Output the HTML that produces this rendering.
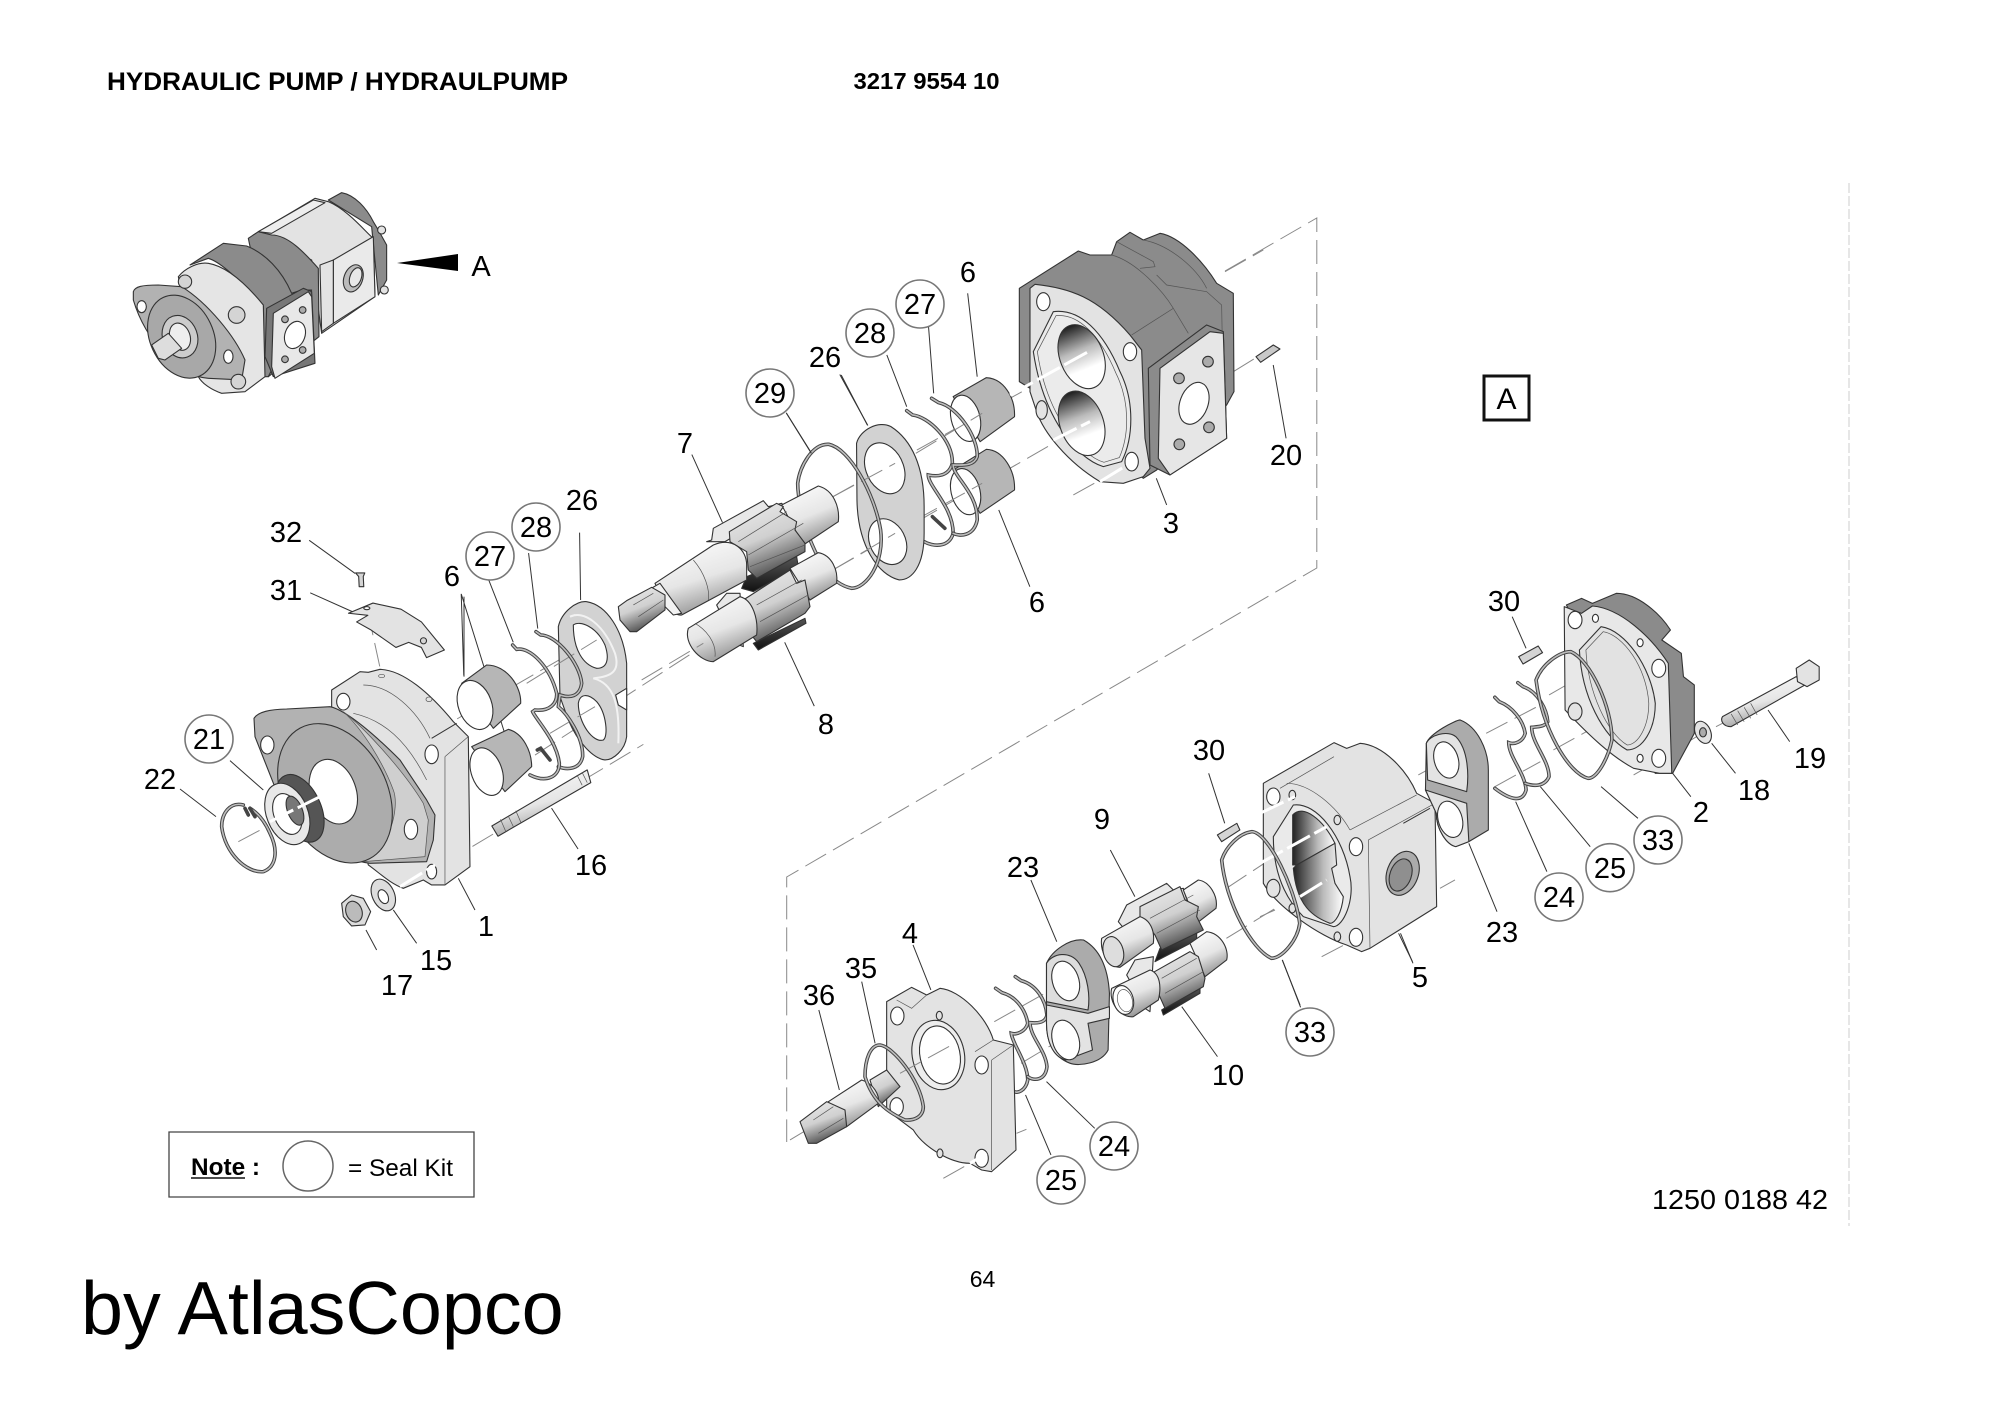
<!DOCTYPE html>
<html><head><meta charset="utf-8"><style>
html,body{margin:0;padding:0;background:#fff}
svg{display:block}
svg *{vector-effect:non-scaling-stroke}
text{font-family:"Liberation Sans",sans-serif;fill:#000}
.l text{font-size:29px;text-anchor:middle}
.c circle{fill:#fff;stroke:#777;stroke-width:1.6}
.p{stroke:#333;stroke-width:1.1;stroke-linejoin:round}
.t{stroke:#555;stroke-width:.7;fill:none}
.r{fill:none;stroke:#444;stroke-width:3.6;stroke-linecap:round}
.ri{fill:none;stroke:#bdbdbd;stroke-width:1.6;stroke-linecap:round}
.d{stroke:#888;stroke-width:1;stroke-dasharray:24 8;fill:none}
.w{stroke:#fff;stroke-width:3;stroke-dasharray:26 5;fill:none}
.ld{stroke:#333;stroke-width:1;fill:none}
.g1{fill:#e3e3e3}.g2{fill:#d4d4d4}.g3{fill:#ababab}.g4{fill:#8b8b8b}.wh{fill:#fff}.k{fill:#222}
</style></head><body>
<svg width="2000" height="1413" viewBox="0 0 2000 1413" xmlns="http://www.w3.org/2000/svg">
<defs>
<linearGradient id="bore" x1="0" y1="0" x2="0" y2="1"><stop offset="0" stop-color="#1c1c1c"/><stop offset=".4" stop-color="#bbb"/><stop offset=".7" stop-color="#fff"/></linearGradient>
<linearGradient id="boreh" x1="0" y1="0" x2="1" y2="0"><stop offset="0" stop-color="#222"/><stop offset=".6" stop-color="#bbb"/><stop offset="1" stop-color="#fff"/></linearGradient>
<linearGradient id="cyl" x1="0" y1="0" x2=".4" y2="1"><stop offset="0" stop-color="#fff"/><stop offset=".6" stop-color="#e6e6e6"/><stop offset="1" stop-color="#999"/></linearGradient>
<linearGradient id="gear" x1="0" y1="0" x2=".4" y2="1"><stop offset="0" stop-color="#eee"/><stop offset=".55" stop-color="#d0d0d0"/><stop offset="1" stop-color="#555"/></linearGradient>
<linearGradient id="dk" x1="0" y1="0" x2="0" y2="1"><stop offset="0" stop-color="#555"/><stop offset="1" stop-color="#111"/></linearGradient>
<path id="r22" d="M340,495C300,485 275,520 275,560C285,640 350,700 400,695C440,680 445,630 420,580C405,545 385,520 360,505"/>
<path id="ra" d="M188,225L200,238C240,230 300,290 320,370C322,400 300,425 255,420L248,425C255,445 320,510 328,580C328,620 290,640 240,615"/>
<path id="rb" d="M258,185L272,195C320,195 390,280 395,340C390,380 360,385 330,375L325,410C350,430 400,500 398,560C390,600 350,600 325,590"/>
<path id="r28" d="M378,632L392,645C430,650 490,720 488,790C480,830 450,830 430,825C430,860 490,920 490,1000C480,1045 440,1040 420,1025"/>
<path id="r27" d="M438,595L455,608C500,620 550,710 548,770C540,800 510,795 490,795C490,830 550,880 548,960C540,1010 505,1010 490,1000"/>
<path id="r29" d="M115,850C120,800 150,730 190,733C240,745 300,880 315,990C325,1090 280,1165 245,1165C190,1150 165,1080 145,1020C130,960 115,900 115,850Z"/>
<path id="r24" d="M483,415L497,428C530,440 550,480 555,520C550,545 530,555 518,550C520,580 555,640 555,690C550,725 530,730 525,725"/>
<path id="r25" d="M527,380L540,392C575,405 595,450 598,495C595,520 575,520 560,518C560,560 595,600 598,650C595,690 570,695 555,680"/>
<path id="r35" d="M225,290C225,240 240,195 270,195C310,200 390,300 400,380C400,410 375,422 345,420C300,400 250,370 225,290Z"/>
<path id="r33a" d="M50,870C60,830 90,790 120,785C160,790 220,960 230,1060C225,1110 190,1165 165,1165C120,1140 60,1000 50,870Z"/>
<path id="r33b" d="M775,330C790,280 830,245 855,245C900,270 950,410 950,510C940,570 915,625 895,625C850,610 790,480 775,330Z"/>
<path id="r24b" d="M680,382L690,395C720,410 745,450 750,490C745,515 725,525 712,518C712,560 750,610 752,660C745,695 720,695 680,655"/>
<path id="r25b" d="M733,338L745,350C780,365 800,420 802,455C795,470 780,470 765,472C765,520 805,570 805,620C795,650 770,650 750,640"/>
</defs>

<!-- dashed frames -->
<path d="M1225,271 L1316.8,218 L1316.8,568 L786.7,877 L786.7,1142" class="d"/>
<line x1="1849" y1="183" x2="1849" y2="1226" stroke="#ddd" stroke-width="1.5" stroke-dasharray="10 3"/>

<!-- Thumbnail -->
<g transform="translate(125,180) scale(.3333)">
 <path class="p g4" d="M610,60L650,38C690,45 725,85 745,125L760,150 785,195 785,300 760,345 740,140Z"/>
 <circle class="p g1" cx="770" cy="150" r="12"/><circle class="p g1" cx="778" cy="330" r="12"/>
 <path class="p g1" d="M385,165L570,55 610,65C670,90 725,160 745,175L750,350 590,460 560,240Z"/>
 <path class="p" fill="#eee" d="M400,155L565,60 600,68 440,160Z"/>
 <path class="p g4" d="M370,175L400,155 440,165C490,165 540,220 580,265L582,470 430,590 415,390Z"/>
 <path class="p g4" d="M195,255L295,190 365,198C420,220 470,270 500,340L530,330 560,330 430,590 410,590 415,380C380,340 300,250 250,235Z"/>
 <path class="p" fill="#eaeaea" d="M625,240L745,170 750,350 625,430Z"/>
 <path class="p g1" d="M585,255L625,240 625,430 590,455Z"/>
 <ellipse class="p" fill="#bbb" cx="685" cy="295" rx="28" ry="42" transform="rotate(20 685 295)"/>
 <ellipse class="p" fill="#e8e8e8" cx="692" cy="292" rx="17" ry="30" transform="rotate(20 692 292)"/>
 <path class="p" fill="#e5e5e5" d="M160,290C180,265 220,245 250,250C310,260 370,320 415,375L420,590 360,635 290,640C260,630 230,610 220,590Z"/>
 <path class="p" fill="#b2b2b2" d="M25,335C30,320 50,315 100,315L170,320C250,370 330,470 360,540L350,600 250,595C160,590 60,480 25,360Z"/>
 <ellipse class="p" fill="#a8a8a8" cx="170" cy="470" rx="95" ry="130" transform="rotate(-25 170 470)"/>
 <ellipse class="p" fill="#ccc" cx="165" cy="470" rx="52" ry="65" transform="rotate(-20 165 470)"/>
 <ellipse class="p" fill="#eee" cx="165" cy="470" rx="30" ry="42" transform="rotate(-20 165 470)"/>
 <path class="p" fill="#ddd" d="M80,495L130,460 170,505 120,540 100,535Z"/>
 <ellipse class="p wh" cx="50" cy="380" rx="14" ry="18"/><ellipse class="p wh" cx="310" cy="530" rx="14" ry="20"/>
 <circle class="p g2" cx="180" cy="305" r="20"/><circle class="p g2" cx="335" cy="405" r="25"/><circle class="p g2" cx="340" cy="605" r="22"/>
 <path class="p" fill="#777" d="M425,385L535,325 560,335 570,550 445,590 420,530Z"/>
 <path class="p" fill="#e8e8e8" d="M445,400L550,335 560,350 568,520 450,595 440,560Z"/>
 <ellipse class="p wh" cx="510" cy="465" rx="30" ry="42" transform="rotate(20 510 465)"/>
 <circle class="p g3" cx="480" cy="418" r="10"/><circle class="p g3" cx="533" cy="390" r="10"/><circle class="p g3" cx="533" cy="510" r="10"/><circle class="p g3" cx="480" cy="538" r="10"/>
</g>
<polygon fill="#000" points="397,263 458,254 458,271"/>

<!-- shim, screw, stud, upper leaders (crop 1) -->
<g transform="translate(100,150) scale(.5102)">
 <line class="d" x1="525" y1="905" x2="550" y2="1020"/>
 <line class="d" x1="800" y1="1220" x2="1170" y2="980"/>
 <line class="d" x1="700" y1="1115" x2="1020" y2="930"/>
 <line class="d" x1="730" y1="1365" x2="1065" y2="1165"/>
 <path class="p g1" d="M487,908L535,888 590,900 630,925 675,980 640,995 630,975 605,965 580,975 530,940 503,925 525,912Z"/>
 <ellipse class="p wh" cx="523" cy="898" rx="6" ry="3"/><circle class="p g2" cx="634" cy="962" r="6"/>
 <path class="p g2" d="M501,829L519,829 516,836 517,856 508,856 507,836Z"/>
 <path class="p" fill="url(#cyl)" d="M768,1325L955,1215 962,1240 780,1345Z"/>
 <path class="t" d="M785,1312L795,1335M800,1305L810,1326M815,1295L825,1318M935,1225L945,1245M945,1220L955,1240"/>
 <path class="ld" d="M410,765L500,830M412,868L495,905M708,870L713,1030M708,870L800,1165M762,843L810,965M840,790L858,938M940,750L942,882M1345,515L1395,595M1450,440L1505,540M1160,597L1220,730M1342,965L1400,1090M885,1290L937,1370"/>
</g>

<!-- Part 1 housing (crop 2) -->
<g transform="translate(130,640) scale(.3333)">
 <path class="p g1" d="M605,150L690,95 715,97 750,88C820,90 900,160 970,245L1015,290 1020,680 945,735 905,735 880,720 820,745C780,730 750,700 715,675L605,200Z"/>
 <path class="t" d="M945,350L945,735M945,350L1015,290M700,135C780,135 860,210 900,295M670,220C760,240 830,300 890,420"/>
 <line x1="905" y1="295" x2="980" y2="250" class="ld"/>
 <ellipse class="p wh" cx="640" cy="185" rx="20" ry="25"/><ellipse class="p wh" cx="905" cy="343" rx="20" ry="28"/><ellipse class="p wh" cx="905" cy="695" rx="15" ry="22"/>
 <ellipse class="t" cx="755" cy="108" rx="9" ry="5"/><ellipse class="t" cx="897" cy="178" rx="9" ry="7"/>
 <path class="p" fill="#b2b2b2" d="M372,235C385,215 420,208 470,207L600,200C650,210 740,290 810,360L890,480 915,525 910,600 890,665 720,670C640,660 520,600 450,480L375,290Z"/>
 <path d="M640,215C700,260 820,390 880,490L895,540 885,650 700,665C780,630 810,500 790,450C760,370 700,270 640,215Z" fill="#cfcfcf" stroke="#555" stroke-width=".7"/>
 <ellipse class="p" fill="#acacac" cx="615" cy="460" rx="155" ry="222" transform="rotate(-28 615 460)"/>
 <ellipse class="p wh" cx="610" cy="455" rx="68" ry="100" transform="rotate(-20 610 455)"/>
 <ellipse class="p wh" cx="843" cy="568" rx="20" ry="30"/><ellipse class="p wh" cx="412" cy="315" rx="20" ry="27"/>
 <ellipse class="p" fill="#555" cx="510" cy="505" rx="62" ry="108" transform="rotate(-25 510 505)"/>
 <ellipse class="p" fill="#e8e8e8" cx="472" cy="522" rx="62" ry="96" transform="rotate(-22 472 522)"/>
 <ellipse class="p wh" cx="472" cy="522" rx="40" ry="64" transform="rotate(-22 472 522)"/>
 <ellipse class="p" fill="#777" cx="495" cy="512" rx="22" ry="46" transform="rotate(-22 495 512)"/>
 <use href="#r22" class="r"/><use href="#r22" class="ri"/>
 <path class="r" d="M345,505L355,525M360,505L375,530"/>
 <line class="d" x1="325" y1="605" x2="410" y2="560"/>
 <path class="w" d="M420,545L650,430M810,740L915,675"/>
 <ellipse class="p" fill="#ddd" cx="760" cy="765" rx="33" ry="50" transform="rotate(-25 760 765)"/>
 <ellipse class="p wh" cx="760" cy="770" rx="14" ry="22" transform="rotate(-25 760 770)"/>
 <path class="p" fill="#ddd" d="M635,790L665,765 700,775 722,815 705,855 665,858 640,830Z"/>
 <ellipse class="p" fill="#bbb" cx="672" cy="815" rx="24" ry="32" transform="rotate(-20 672 815)"/>
 <path class="ld" d="M300,362L400,450M150,447L258,530M790,810L860,910M708,870L740,930M985,715L1035,810"/>
</g>

<!-- bushings, rings, plate 26 (crop 3) -->
<g transform="translate(450,570) scale(.3333)">
 <path class="p" fill="#b6b6b6" d="M35,340L110,285C170,285 215,350 212,400L130,475Z"/>
 <ellipse class="p wh" cx="75" cy="405" rx="50" ry="76" transform="rotate(-20 75 405)"/>
 <path class="p" fill="#b6b6b6" d="M65,530L175,478C220,490 245,545 245,590L165,665Z"/>
 <ellipse class="p wh" cx="110" cy="605" rx="46" ry="74" transform="rotate(-20 110 605)"/>
 <path class="p" fill="#d2d2d2" d="M325,170C335,125 380,92 410,95C470,105 520,180 530,280L530,500C525,540 490,570 465,570C430,565 385,520 355,450L330,380Z"/>
 <path d="M360,140C400,120 460,160 495,250C510,300 490,320 430,325C490,340 510,400 505,520M360,140L375,135" fill="none" stroke="#f2f2f2" stroke-width="2"/>
 <path class="p wh" d="M370,165C390,150 440,170 465,225C480,270 470,295 440,295C400,285 370,240 370,165Z"/>
 <path class="p wh" d="M385,400C390,370 415,370 440,395C470,430 475,500 460,510C430,520 385,460 385,400Z"/>
 <path class="p wh" d="M497,375L530,355 530,420 505,405Z" stroke="#555"/>
 <line class="d" x1="230" y1="340" x2="440" y2="210"/><line class="d" x1="300" y1="490" x2="435" y2="410"/>
 <use href="#rb" class="r"/><use href="#rb" class="ri"/>
 <use href="#ra" class="r"/><use href="#ra" class="ri"/>
 <path class="r" d="M262,540L272,535L300,570"/>
 <line x1="42" y1="80" x2="42" y2="320" class="ld"/>
</g>

<!-- ZOOM 2 group: rings, bushings, plate 26 upper -->
<g transform="translate(750,200) scale(.4146,.3333)">
 <path class="d" d="M200,890L830,455M200,1110L830,660"/>
 <path class="p" fill="#b6b6b6" d="M490,590L570,533C610,535 640,590 638,650L555,725Z"/>
 <ellipse class="p wh" cx="520" cy="655" rx="35" ry="70" transform="rotate(-10 520 655)"/>
 <path class="p" fill="#b6b6b6" d="M490,810L570,748C610,750 640,810 638,870L555,940Z"/>
 <ellipse class="p wh" cx="520" cy="875" rx="35" ry="70" transform="rotate(-10 520 875)"/>
 <path class="d" d="M400,760L560,640M400,960L560,850"/>
 <use href="#r28" class="r"/><use href="#r28" class="ri"/>
 <use href="#r27" class="r"/><use href="#r27" class="ri"/>
 <path class="r" d="M440,950L470,985"/>
 <path class="p" fill="#d2d2d2" d="M257,730C265,690 310,660 340,680C390,720 420,800 420,920L420,1000C420,1100 390,1140 360,1140C310,1125 260,1040 258,900Z"/>
 <ellipse class="p wh" cx="325" cy="805" rx="46" ry="78" transform="rotate(-15 325 805)"/>
 <ellipse class="p wh" cx="332" cy="1025" rx="44" ry="70" transform="rotate(-15 332 1025)"/>
 <path class="d" d="M200,890L350,790M200,1110L350,1000"/>
 <use href="#r29" class="r"/><use href="#r29" class="ri"/>
 <path class="ld" d="M525,280L548,530M430,370L443,580M330,465L378,620M220,525L283,675M88,640L148,760M980,835L1005,915M600,930L675,1160M1262,495L1293,715"/>
</g>

<!-- Shafts 7 / 8 (crop 4) -->
<g transform="translate(610,480) scale(.3333)">
 <path class="p" fill="#e8e8e8" d="M290,185L305,180 310,145 460,62 475,80 515,70 525,80 345,185Z"/>
 <path class="p" fill="url(#cyl)" d="M515,75L625,18C670,30 690,80 685,125L580,195Z"/>
 <path class="p" fill="url(#dk)" d="M410,290L560,230 565,260 430,335 395,325Z"/>
 <path class="p" fill="url(#gear)" d="M358,155L500,70 520,80 510,95 560,125 555,150 585,190 585,215 440,295 415,270 410,215 360,185Z"/>
 <path class="t" d="M385,185L530,95M415,225L580,130M420,260L585,195"/>
 <path class="p" fill="url(#cyl)" d="M135,310L310,195C370,170 410,210 410,255L410,300 215,405C190,410 160,360 135,310Z"/>
 <path class="t" d="M250,240C285,280 300,330 295,360"/>
 <path class="p" fill="#f2f2f2" d="M115,330L150,310 215,400 190,405Z"/>
 <path class="p" fill="url(#gear)" d="M25,380L50,362 125,322 165,345 165,390 80,455 60,455 30,420Z"/>
 <path class="t" d="M70,375L130,340M85,410L160,360"/>
 <path class="p" fill="url(#cyl)" d="M540,265L625,218C665,225 685,270 680,310L600,360Z"/>
 <path class="p" fill="#e8e8e8" d="M320,375L350,340 390,340 400,500 375,490Z"/>
 <path class="p" fill="url(#dk)" d="M430,490L585,415 588,430 445,510Z"/>
 <path class="p" fill="url(#gear)" d="M400,360L540,270 560,310 585,300 600,380 585,400 440,485 420,460Z"/>
 <path class="t" d="M440,375L575,300M450,425L595,345"/>
 <path class="p" fill="url(#cyl)" d="M235,445L390,350C430,360 445,420 440,465L310,545C270,545 220,490 235,445Z"/>
 <path class="t" d="M255,430C290,450 320,490 315,530"/>
 <line class="d" x1="95" y1="600" x2="280" y2="490"/>
</g>

<!-- Housing 3 (crop 5) -->
<g transform="translate(1010,225) scale(.3333)">
 <path class="d" d="M645,140L760,75M670,440L735,400M190,810L360,715"/>
 <path class="p g4" d="M28,190L205,78 240,90 305,90 320,50 360,22 400,45 450,25C510,35 580,110 620,175L670,205 672,500 650,540 440,735 400,760 60,490 28,470Z"/>
 <path class="t" d="M320,50L430,110 435,125 390,130M400,45C480,60 560,130 590,190M440,150L470,180 590,200 635,240 640,520M365,330L490,250 535,325M305,90C380,110 460,200 490,250"/>
 <path class="p g1" d="M60,190L75,178C180,190 260,215 360,330L395,375 405,640 420,730 400,755 340,775 270,770C170,710 100,620 80,560L60,500Z"/>
 <path class="p" fill="#ebebeb" d="M70,380L130,260C210,250 280,320 330,440C375,530 370,640 335,710L280,725C200,700 100,580 70,380Z"/>
 <path class="t" d="M82,380L138,272C205,265 270,330 318,445C360,530 358,630 328,698L282,712C210,690 110,570 82,380Z"/>
 <ellipse class="p" fill="url(#bore)" cx="215" cy="395" rx="65" ry="100" transform="rotate(-22 215 395)"/>
 <ellipse class="p" fill="url(#bore)" cx="215" cy="595" rx="65" ry="100" transform="rotate(-20 215 595)"/>
 <ellipse class="p wh" cx="100" cy="230" rx="20" ry="27"/><ellipse class="p wh" cx="360" cy="380" rx="20" ry="27"/><ellipse class="p wh" cx="365" cy="710" rx="20" ry="28"/><ellipse class="p g1" cx="95" cy="555" rx="17" ry="28"/>
 <path class="w" d="M0,510L235,380M130,645L240,590M270,770L360,715"/>
 <path class="p g4" d="M415,430L590,300 640,320 650,640 480,750 420,720Z"/>
 <path class="p" fill="#e6e6e6" d="M450,430L600,320 640,325 650,640 480,750 445,700Z"/>
 <ellipse class="p wh" cx="552" cy="535" rx="42" ry="65" transform="rotate(20 552 535)"/>
 <circle class="p g3" cx="507" cy="460" r="16"/><circle class="p g3" cx="594" cy="410" r="16"/><circle class="p g3" cx="597" cy="607" r="16"/><circle class="p g3" cx="508" cy="658" r="16"/>
 <path class="p" fill="#c8c8c8" d="M738,395L790,360 810,372 752,412Z"/>
</g>

<!-- Lower centre: rings, plate 23 (crop zoom 3) -->
<g transform="translate(780,850) scale(.4464,.3333)">
 <path class="d" d="M480,515L640,395M540,640L640,560M530,850L552,838M1000,115L1130,0M1000,265L1140,150"/>
 <use href="#r24" class="r"/><use href="#r24" class="ri"/>
 <use href="#r25" class="r"/><use href="#r25" class="ri"/>
 <path class="p g3" d="M597,340C610,300 650,265 680,270C720,300 735,360 738,430L735,600C720,640 670,650 650,640C610,620 597,570 597,520Z"/>
 <path class="p g1" d="M597,465L690,490 738,470 738,505 690,520 700,600 640,630C610,620 597,570 597,520Z"/>
 <path class="p" fill="#ddd" d="M597,340C610,310 650,300 670,340C690,380 695,440 690,480L597,455Z"/>
 <ellipse class="p wh" cx="640" cy="393" rx="30" ry="60" transform="rotate(-10 640 393)"/>
 <ellipse class="p wh" cx="640" cy="570" rx="30" ry="60" transform="rotate(-10 640 570)"/>
 <path class="ld" d="M562,90L620,275M298,285L338,420M183,395L213,580M87,480L133,720M740,0L795,140M900,470L980,620M1125,330L1165,465M597,695L705,835M550,735L607,915M1390,250L1418,340"/>
</g>

<!-- Plate 4, shaft 36 (crop 7) -->
<g transform="translate(790,980) scale(.3333)">
 <path class="d" d="M0,480L50,450M460,595L540,550"/>
 <path class="p g1" d="M290,65L365,22 410,45 450,25C510,30 590,110 610,180L670,195 678,510 605,575 575,570 540,550C480,550 400,500 370,450L290,390Z"/>
 <path class="t" d="M555,215L610,180M605,240L670,195M605,240L605,570M320,60L365,85 410,45"/>
 <ellipse class="p" fill="#ededed" cx="445" cy="225" rx="78" ry="105" transform="rotate(-12 445 225)"/>
 <ellipse class="p wh" cx="450" cy="225" rx="60" ry="88" transform="rotate(-12 450 225)"/>
 <ellipse class="p wh" cx="322" cy="108" rx="20" ry="27"/><ellipse class="p wh" cx="575" cy="255" rx="20" ry="27"/><ellipse class="p wh" cx="575" cy="535" rx="20" ry="27"/><ellipse class="p wh" cx="320" cy="380" rx="20" ry="27"/>
 <ellipse class="p g1" cx="448" cy="107" rx="9" ry="13"/><ellipse class="p g1" cx="450" cy="520" rx="9" ry="13"/>
 <line class="d" x1="330" y1="280" x2="485" y2="195"/>
 <path class="p" fill="url(#gear)" d="M240,300L290,270 330,320 265,380Z"/>
 <path class="p" fill="url(#cyl)" d="M115,365L215,300C250,310 270,345 265,370L170,440Z"/>
 <path class="p" fill="url(#gear)" d="M30,425L110,365 165,390 170,440 80,490 55,490Z"/>
 <path class="t" d="M70,420L130,380M85,460L160,415"/>
 <use href="#r35" class="r"/><use href="#r35" class="ri"/>
 <line class="w" x1="540" y1="550" x2="590" y2="520"/>
</g>

<!-- Gears 9/10 (crop 6) -->
<g transform="translate(1090,880) scale(.3333)">
 <path class="p" fill="#e8e8e8" d="M85,125L110,75 230,10 250,30 280,25 300,90 130,180Z"/>
 <path class="p" fill="url(#cyl)" d="M280,30L325,0C360,5 385,50 378,85L320,130Z"/>
 <path class="p" fill="url(#dk)" d="M210,205L320,155 320,180 195,245Z"/>
 <path class="p" fill="url(#gear)" d="M150,80L270,20 285,60 325,80 320,110 340,150 215,210 195,165 150,110Z"/>
 <path class="t" d="M180,115L310,45M200,160L330,90"/>
 <path class="p" fill="url(#cyl)" d="M35,175L150,110C180,120 195,150 190,190L90,262C50,260 30,210 35,175Z"/>
 <ellipse class="p" fill="#ddd" cx="70" cy="215" rx="30" ry="46" transform="rotate(-15 70 215)"/>
 <path class="p" fill="url(#cyl)" d="M300,190L350,155C395,160 418,210 410,240L345,290Z"/>
 <path class="p" fill="#e8e8e8" d="M110,285L135,240 190,230 180,395 165,385Z"/>
 <path class="p" fill="url(#dk)" d="M215,390L330,320 330,340 220,405Z"/>
 <path class="p" fill="url(#gear)" d="M185,280L300,215 325,230 345,295 340,320 225,385 205,340Z"/>
 <path class="t" d="M215,295L320,235M225,340L340,275"/>
 <path class="p" fill="url(#cyl)" d="M65,325L180,270C210,280 215,320 205,360L130,410C90,415 55,365 65,325Z"/>
 <ellipse class="p wh" cx="100" cy="360" rx="30" ry="44" transform="rotate(-15 100 360)"/>
 <ellipse class="t" cx="105" cy="362" rx="22" ry="34" transform="rotate(-15 105 362)"/>
</g>

<!-- Housing 5 (crop 8) -->
<g transform="translate(1260,740) scale(.3333)">
 <path class="d" d="M475,105L575,50M540,445L585,420M185,650L290,595M0,530L45,510"/>
 <path class="p g1" d="M10,130L222,8 260,25 300,10C370,15 440,90 470,160L525,190 530,500 330,625 305,635 260,615C180,590 50,500 10,430Z"/>
 <path class="t" d="M270,270L470,165M325,300L525,190M325,300L330,625M60,145L222,50M80,130C150,130 230,200 270,270"/>
 <line x1="430" y1="250" x2="510" y2="205" class="ld"/>
 <path class="p" fill="#eaeaea" d="M40,290L100,195C170,185 250,290 270,410C285,480 250,560 220,560L130,530C70,470 40,390 40,290Z"/>
 <path class="p" fill="url(#boreh)" d="M98,225C130,190 190,240 225,310L110,375 98,375Z"/>
 <path class="p" fill="url(#boreh)" d="M100,385L110,375 225,310 230,375 215,385 225,430 250,470C245,520 225,550 210,550C160,530 110,500 100,385Z"/>
 <ellipse class="p g3" cx="428" cy="400" rx="47" ry="68" transform="rotate(20 428 400)"/>
 <ellipse class="p" fill="#8f8f8f" cx="422" cy="405" rx="32" ry="50" transform="rotate(20 422 405)"/>
 <ellipse class="p wh" cx="40" cy="170" rx="20" ry="26"/><ellipse class="p wh" cx="288" cy="320" rx="20" ry="27"/><ellipse class="p g1" cx="40" cy="445" rx="20" ry="27"/><ellipse class="p wh" cx="288" cy="592" rx="20" ry="27"/>
 <ellipse class="p g1" cx="97" cy="165" rx="10" ry="14"/><ellipse class="p g1" cx="232" cy="240" rx="10" ry="14"/><ellipse class="p g1" cx="232" cy="590" rx="10" ry="14"/><ellipse class="p g1" cx="97" cy="505" rx="10" ry="14"/>
 <path class="w" d="M0,220L105,170M0,370L200,260M120,470L200,420"/>
</g>

<!-- ZOOM 4 group: right parts -->
<g transform="translate(1200,570) scale(.4336,.3333)">
 <path class="d" d="M660,490L785,405M680,650L785,575M805,375L945,270M815,540L940,450M1000,615L1060,570M1120,520L1145,500M1190,470L1205,460M850,170L915,140"/>
 <use href="#r33a" class="r"/><use href="#r33a" class="ri"/>
 <path class="p g2" d="M40,795L85,760 92,780 50,815Z"/>
 <path class="p g3" d="M522,520C530,490 590,450 600,450C640,470 665,540 665,600L665,780 620,815 590,830C570,825 545,780 545,730L520,660Z"/>
 <path class="p g1" d="M522,520C530,495 570,480 590,500C620,540 620,620 615,665L525,630Z"/>
 <path class="p g1" d="M520,660L615,700 620,815 590,830C570,825 545,780 545,730Z"/>
 <ellipse class="p wh" cx="568" cy="570" rx="28" ry="55" transform="rotate(-10 568 570)"/>
 <ellipse class="p wh" cx="577" cy="748" rx="28" ry="55" transform="rotate(-10 577 748)"/>
 <use href="#r24b" class="r"/><use href="#r24b" class="ri"/>
 <use href="#r25b" class="r"/><use href="#r25b" class="ri"/>
 <path class="p g4" d="M845,105L880,85 905,100 960,70C1010,70 1060,130 1085,180L1065,210 1110,250 1115,320 1140,345 1140,490 1090,610 1050,610Z"/>
 <path class="p" fill="#e8e8e8" d="M840,110L880,130 905,108C970,115 1040,200 1080,280L1088,610 1060,610 1000,595C950,560 900,500 842,420Z"/>
 <path class="p" fill="#e2e2e2" d="M875,240L925,170C980,180 1040,290 1050,400C1050,480 1020,540 985,540C930,500 880,380 875,240Z"/>
 <path class="t" d="M890,240L930,185C975,195 1030,290 1035,400C1035,470 1010,525 985,525C940,490 895,370 890,240Z"/>
 <ellipse class="p wh" cx="865" cy="150" rx="16" ry="26"/><ellipse class="p wh" cx="1058" cy="295" rx="16" ry="27"/><ellipse class="p g1" cx="865" cy="425" rx="16" ry="26"/><ellipse class="p wh" cx="1058" cy="565" rx="16" ry="27"/><ellipse class="p wh" cx="912" cy="145" rx="7" ry="12"/><ellipse class="p wh" cx="1015" cy="218" rx="7" ry="12"/><ellipse class="p wh" cx="1015" cy="565" rx="7" ry="12"/>
 <use href="#r33b" class="r"/><use href="#r33b" class="ri"/>
 <path class="p g2" d="M735,260L780,228 790,248 745,282Z"/>
 <ellipse class="p g1" cx="1160" cy="487" rx="18" ry="34" transform="rotate(-15 1160 487)"/>
 <ellipse class="p g3" cx="1160" cy="487" rx="8" ry="14"/>
 <path class="p" fill="url(#cyl)" d="M1205,440L1375,320 1395,345 1225,470C1205,470 1200,450 1205,440Z"/>
 <path class="p g1" d="M1375,295L1405,270 1428,290 1428,330 1400,350 1378,335Z"/>
 <path class="t" d="M1225,432L1240,465M1240,422L1255,455M1255,412L1270,445M1270,400L1285,435"/>
 <path class="ld" d="M720,140L752,235M20,610L57,760M190,1170L232,1312M458,1090L490,1175M620,820L685,1025M728,695L800,905M785,650L900,830M925,650L1010,745M1090,610L1132,680M1180,520L1235,610M1310,420L1360,515"/>
</g>

<!-- circles -->
<g class="c">
<circle cx="490" cy="556" r="24"/><circle cx="536" cy="527" r="24"/><circle cx="770" cy="393" r="24"/><circle cx="870" cy="333" r="24"/><circle cx="920" cy="304" r="24"/><circle cx="209" cy="739" r="24"/>
<circle cx="1310" cy="1032" r="24"/><circle cx="1114" cy="1146" r="24"/><circle cx="1061" cy="1180" r="24"/><circle cx="1559" cy="897" r="24"/><circle cx="1610" cy="867.7" r="24"/><circle cx="1658" cy="840" r="24"/>
</g>

<!-- labels -->
<g class="l">
<text x="286" y="542">32</text><text x="286" y="600">31</text><text x="452" y="586">6</text><text x="490" y="566">27</text><text x="536" y="537">28</text><text x="582" y="510">26</text>
<text x="770" y="403">29</text><text x="825" y="367">26</text><text x="870" y="343">28</text><text x="920" y="314">27</text><text x="968" y="282">6</text><text x="685" y="453">7</text>
<text x="826" y="734">8</text><text x="209" y="749">21</text><text x="160" y="789">22</text><text x="591" y="875">16</text><text x="486" y="936">1</text><text x="436" y="970">15</text><text x="397" y="995">17</text>
<text x="1171" y="533">3</text><text x="1037" y="612">6</text><text x="1286" y="465">20</text>
<text x="1023" y="877">23</text><text x="910" y="943">4</text><text x="861" y="978">35</text><text x="819" y="1005">36</text><text x="1310" y="1042">33</text><text x="1228" y="1085">10</text>
<text x="1114" y="1156">24</text><text x="1061" y="1190">25</text><text x="1420" y="987">5</text><text x="1102" y="829">9</text>
<text x="1504" y="611">30</text><text x="1209" y="760">30</text><text x="1658" y="850">33</text><text x="1610" y="878">25</text><text x="1559" y="907">24</text><text x="1502" y="942">23</text><text x="1701" y="822">2</text><text x="1754" y="800">18</text><text x="1810" y="768">19</text>
<text x="481" y="276">A</text>
</g>

<!-- boxes/text -->
<rect x="1484" y="376" width="45" height="44" fill="#fff" stroke="#111" stroke-width="3"/>
<text x="1506.5" y="409" font-size="30" text-anchor="middle">A</text>
<rect x="169" y="1132" width="305" height="65" fill="#fff" stroke="#444" stroke-width="1.3"/>
<text x="191" y="1175" font-size="24" font-weight="bold" textLength="69" lengthAdjust="spacingAndGlyphs">Note :</text>
<line x1="191" y1="1178" x2="245" y2="1178" stroke="#111" stroke-width="1.5"/>
<circle cx="308" cy="1166" r="25" fill="#fff" stroke="#666" stroke-width="1.5"/>
<text x="348" y="1176" font-size="24" textLength="105" lengthAdjust="spacingAndGlyphs">= Seal Kit</text>
<text x="107" y="90" font-size="25" font-weight="bold" textLength="461" lengthAdjust="spacingAndGlyphs">HYDRAULIC PUMP / HYDRAULPUMP</text>
<text x="853.5" y="89" font-size="23" font-weight="bold" textLength="146" lengthAdjust="spacingAndGlyphs">3217 9554 10</text>
<text x="1652" y="1209" font-size="28" textLength="176" lengthAdjust="spacingAndGlyphs">1250 0188 42</text>
<text x="982.5" y="1287" font-size="23" text-anchor="middle" fill="#333">64</text>
<text x="81" y="1334" font-size="75.5">by AtlasCopco</text>
</svg>
</body></html>
